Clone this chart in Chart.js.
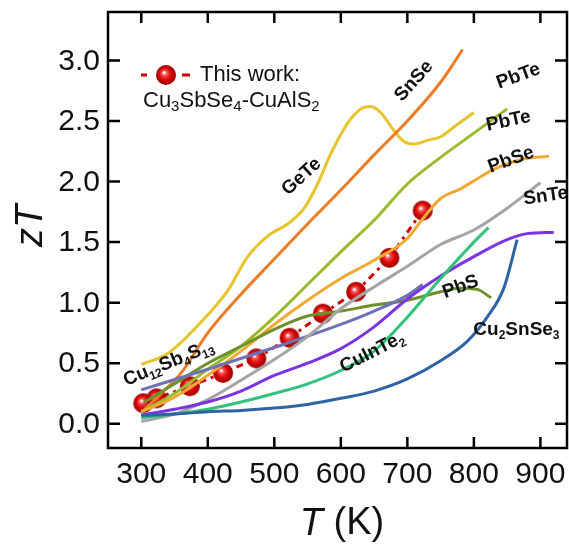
<!DOCTYPE html>
<html>
<head>
<meta charset="utf-8">
<script src="https://cdn.jsdelivr.net/npm/chart.js@4.4.1/dist/chart.umd.min.js"></script>
<style>
  html, body { margin: 0; padding: 0; background: #fff; }
  canvas { display: block; }
</style>
</head>
<body>
<canvas id="zt-chart" width="569" height="544"></canvas>
<script>
const xTicks = [300, 400, 500, 600, 700, 800, 900];
const yTicks = [0, 0.5, 1.0, 1.5, 2.0, 2.5, 3.0];

// this work
const workT = [303, 323, 373, 423, 473, 523, 573, 623, 673, 723];
const workZT = [0.17, 0.21, 0.31, 0.42, 0.54, 0.71, 0.91, 1.09, 1.37, 1.76];

// literature curves
const geteT = [300, 340, 390, 430, 460, 490, 520, 545, 565, 585, 610, 630, 645, 660, 680, 695, 710, 730, 750, 770, 800];
const geteZT = [0.49, 0.58, 0.84, 1.1, 1.38, 1.55, 1.65, 1.78, 1.98, 2.23, 2.48, 2.6, 2.62, 2.57, 2.42, 2.33, 2.31, 2.34, 2.37, 2.45, 2.57];
const snseT = [305, 330, 360, 400, 450, 500, 550, 600, 650, 700, 750, 770, 783];
const snseZT = [0.12, 0.25, 0.42, 0.75, 1.07, 1.36, 1.65, 1.93, 2.22, 2.5, 2.82, 2.98, 3.09];
const pbteT = [300, 350, 400, 450, 500, 550, 600, 650, 700, 750, 800, 850];
const pbteZT = [0.1, 0.25, 0.45, 0.64, 0.88, 1.15, 1.42, 1.68, 1.98, 2.2, 2.4, 2.6];
const pbseT = [300, 350, 400, 450, 500, 550, 600, 650, 700, 720, 750, 780, 810, 830, 870, 913];
const pbseZT = [0.1, 0.22, 0.4, 0.6, 0.82, 1.02, 1.2, 1.35, 1.53, 1.67, 1.86, 1.94, 2.04, 2.1, 2.18, 2.21];
const snteT = [300, 350, 400, 450, 500, 550, 600, 650, 700, 750, 800, 850, 900];
const snteZT = [0.02, 0.08, 0.2, 0.36, 0.53, 0.72, 0.95, 1.13, 1.3, 1.48, 1.6, 1.78, 1.99];
const violetT = [300, 350, 400, 450, 500, 550, 600, 650, 700, 750, 800, 850, 880, 920];
const violetZT = [0.07, 0.12, 0.18, 0.27, 0.4, 0.5, 0.62, 0.8, 1.03, 1.22, 1.38, 1.52, 1.57, 1.58];
const cuinteT = [300, 350, 400, 450, 500, 550, 600, 650, 700, 750, 800, 822];
const cuinteZT = [0.05, 0.08, 0.12, 0.18, 0.25, 0.33, 0.44, 0.6, 0.88, 1.2, 1.5, 1.62];
const cu2snse3T = [300, 350, 400, 450, 500, 550, 600, 650, 700, 750, 790, 820, 845, 865];
const cu2snse3ZT = [0.07, 0.08, 0.1, 0.11, 0.13, 0.16, 0.21, 0.27, 0.37, 0.52, 0.68, 0.88, 1.12, 1.52];
const pbsT = [305, 350, 400, 450, 500, 550, 600, 650, 700, 750, 780, 805, 826];
const pbsZT = [0.18, 0.33, 0.5, 0.64, 0.78, 0.89, 0.93, 0.98, 1.02, 1.09, 1.12, 1.11, 1.04];
const tetraT = [300, 400, 500, 600, 650, 700, 723];
const tetraZT = [0.28, 0.45, 0.63, 0.82, 0.93, 1.06, 1.15];

// curve labels
const labelNames = ['GeTe', 'SnSe', 'PbTe', 'PbTe', 'PbSe', 'SnTe', 'PbS', 'Cu2SnSe3', 'CuInTe2', 'Cu12Sb4S13'];
const labelT = [541, 710, 867, 852, 856, 908, 780, 864, 647, 341];
const labelZT = [2.04, 2.83, 2.87, 2.5, 2.18, 1.88, 1.13, 0.78, 0.59, 0.5];
const labelAngle = [-42, -48, -20, -12, -20, -8, -20, 0, -27, -22];

const FONT = '"Liberation Sans", Arial, sans-serif';

function pairs(t, z) {
    return t.map((v, i) => ({ x: v, y: z[i] }));
}

function curve(t, z, color) {
    return {
        data: pairs(t, z),
        borderColor: color,
        borderWidth: 3,
        pointRadius: 0,
        fill: false,
        cubicInterpolationMode: 'monotone'
    };
}

function makeBall(r) {
    const c = document.createElement('canvas');
    c.width = c.height = 2 * r + 2;
    const g = c.getContext('2d');
    const cx = r + 1;
    const grad = g.createRadialGradient(cx - r * 0.2, cx - r * 0.25, r * 0.05, cx, cx, r);
    grad.addColorStop(0, '#ffffff');
    grad.addColorStop(0.22, '#f25050');
    grad.addColorStop(0.55, '#dd0a0a');
    grad.addColorStop(1, '#9a0000');
    g.fillStyle = grad;
    g.beginPath();
    g.arc(cx, cx, r, 0, Math.PI * 2);
    g.fill();
    return c;
}
const ball = makeBall(10);

// text with subscript digits, centred on (0,0)
function drawChem(ctx, text, size, bold, subSize, subDrop) {
    const parts = text.split(/(\d+)/).filter(s => s.length);
    const w = (bold ? 'bold ' : '');
    let total = 0;
    const widths = parts.map(p => {
        ctx.font = w + (/^\d+$/.test(p) ? subSize : size) + 'px ' + FONT;
        const m = ctx.measureText(p).width;
        total += m;
        return m;
    });
    let x = -total / 2;
    ctx.textBaseline = 'middle';
    ctx.textAlign = 'left';
    parts.forEach((p, i) => {
        const sub = /^\d+$/.test(p);
        ctx.font = w + (sub ? subSize : size) + 'px ' + FONT;
        ctx.fillText(p, x, sub ? subDrop : 0);
        x += widths[i];
    });
    return total;
}

const decorPlugin = {
    id: 'decor',
    afterDatasetsDraw(chart) {
        const ctx = chart.ctx;
        const xs = chart.scales.x;
        const ys = chart.scales.y;
        ctx.save();
        ctx.fillStyle = '#111';
        labelNames.forEach((name, i) => {
            ctx.save();
            ctx.translate(xs.getPixelForValue(labelT[i]), ys.getPixelForValue(labelZT[i]));
            ctx.rotate(labelAngle[i] * Math.PI / 180);
            drawChem(ctx, name, 19, true, 12, 6);
            ctx.restore();
        });
        ctx.restore();
    },
    afterDraw(chart) {
        const ctx = chart.ctx;
        const a = chart.chartArea;
        const xs = chart.scales.x;
        const ys = chart.scales.y;
        ctx.save();
        ctx.strokeStyle = '#000';
        ctx.lineWidth = 2.5;
        ctx.strokeRect(a.left, a.top, a.right - a.left, a.bottom - a.top);
        ctx.beginPath();
        xTicks.forEach(v => {
            const p = xs.getPixelForValue(v);
            ctx.moveTo(p, a.bottom); ctx.lineTo(p, a.bottom - 11);
            ctx.moveTo(p, a.top); ctx.lineTo(p, a.top + 11);
        });
        yTicks.forEach(v => {
            const p = ys.getPixelForValue(v);
            ctx.moveTo(a.left, p); ctx.lineTo(a.left + 12, p);
            ctx.moveTo(a.right, p); ctx.lineTo(a.right - 12, p);
        });
        ctx.stroke();

        // tick labels
        ctx.fillStyle = '#111';
        ctx.font = '30px ' + FONT;
        ctx.textBaseline = 'middle';
        ctx.textAlign = 'center';
        xTicks.forEach(v => ctx.fillText(String(v), xs.getPixelForValue(v), a.bottom + 27));
        ctx.textAlign = 'right';
        yTicks.forEach(v => ctx.fillText(v.toFixed(1), a.left - 8, ys.getPixelForValue(v) + 1));

        // legend
        const ly = 75;
        ctx.strokeStyle = '#cc0000';
        ctx.lineWidth = 3;
        ctx.beginPath();
        ctx.moveTo(141, ly); ctx.lineTo(147, ly);
        ctx.moveTo(182, ly); ctx.lineTo(190, ly);
        ctx.stroke();
        ctx.drawImage(ball, 166 - ball.width / 2, ly - ball.height / 2);
        ctx.font = '22px ' + FONT;
        ctx.textAlign = 'left';
        ctx.fillText('This work:', 200, ly);
        const parts = 'Cu3SbSe4-CuAlS2'.split(/(\d)/).filter(s => s.length);
        let x = 143;
        parts.forEach(p => {
            const sub = /^\d$/.test(p);
            ctx.font = (sub ? 15 : 22) + 'px ' + FONT;
            ctx.fillText(p, x, sub ? 107 : 101);
            x += ctx.measureText(p).width;
        });

        // axis titles
        ctx.save();
        ctx.translate(31, 226);
        ctx.rotate(-Math.PI / 2);
        ctx.font = 'italic 38px ' + FONT;
        ctx.textAlign = 'center';
        ctx.fillText('zT', 0, 0);
        ctx.restore();

        ctx.font = 'italic 38px ' + FONT;
        const wT = ctx.measureText('T').width;
        ctx.font = '38px ' + FONT;
        const wK = ctx.measureText(' (K)').width;
        const x0 = 342 - (wT + wK) / 2;
        ctx.textAlign = 'left';
        ctx.font = 'italic 38px ' + FONT;
        ctx.fillText('T', x0, 524);
        ctx.font = '38px ' + FONT;
        ctx.fillText(' (K)', x0 + wT, 524);
        ctx.restore();
    }
};

const ctx = document.getElementById('zt-chart').getContext('2d');
const ztChart = new Chart(ctx, {
    type: 'line',
    data: {
        datasets: [
            curve(cu2snse3T, cu2snse3ZT, '#2f63a4'),
            curve(cuinteT, cuinteZT, '#33c27e'),
            curve(violetT, violetZT, '#7a34e4'),
            curve(snteT, snteZT, '#a4a4a4'),
            curve(tetraT, tetraZT, '#6d72b6'),
            curve(pbsT, pbsZT, '#6e902c'),
            curve(pbseT, pbseZT, '#f2a934'),
            curve(pbteT, pbteZT, '#9cbb2c'),
            curve(snseT, snseZT, '#ee7b26'),
            curve(geteT, geteZT, '#e8c42c'),
            {
                data: pairs(workT, workZT),
                borderColor: '#cc0000',
                borderWidth: 3,
                borderDash: [7, 5, 3, 5],
                pointStyle: ball,
                pointRadius: 10,
                fill: false,
                tension: 0
            }
        ]
    },
    options: {
        responsive: false,
        devicePixelRatio: 1,
        animation: false,
        layout: { autoPadding: false, padding: { top: 12, right: 2, left: 0, bottom: 0 } },
        plugins: {
            legend: { display: false },
            tooltip: { enabled: false }
        },
        scales: {
            x: {
                type: 'linear',
                min: 250,
                max: 940,
                afterBuildTicks: (s) => { s.ticks = xTicks.map(v => ({ value: v })); },
                afterFit: (s) => { s.height = 96; },
                grid: { display: false, drawTicks: false },
                border: { display: false },
                ticks: { display: false }
            },
            y: {
                type: 'linear',
                min: -0.2,
                max: 3.4,
                afterBuildTicks: (s) => { s.ticks = yTicks.map(v => ({ value: v })); },
                afterFit: (s) => { s.width = 108; },
                grid: { display: false, drawTicks: false },
                border: { display: false },
                ticks: { display: false }
            }
        }
    },
    plugins: [decorPlugin]
});
</script>
</body>
</html>
